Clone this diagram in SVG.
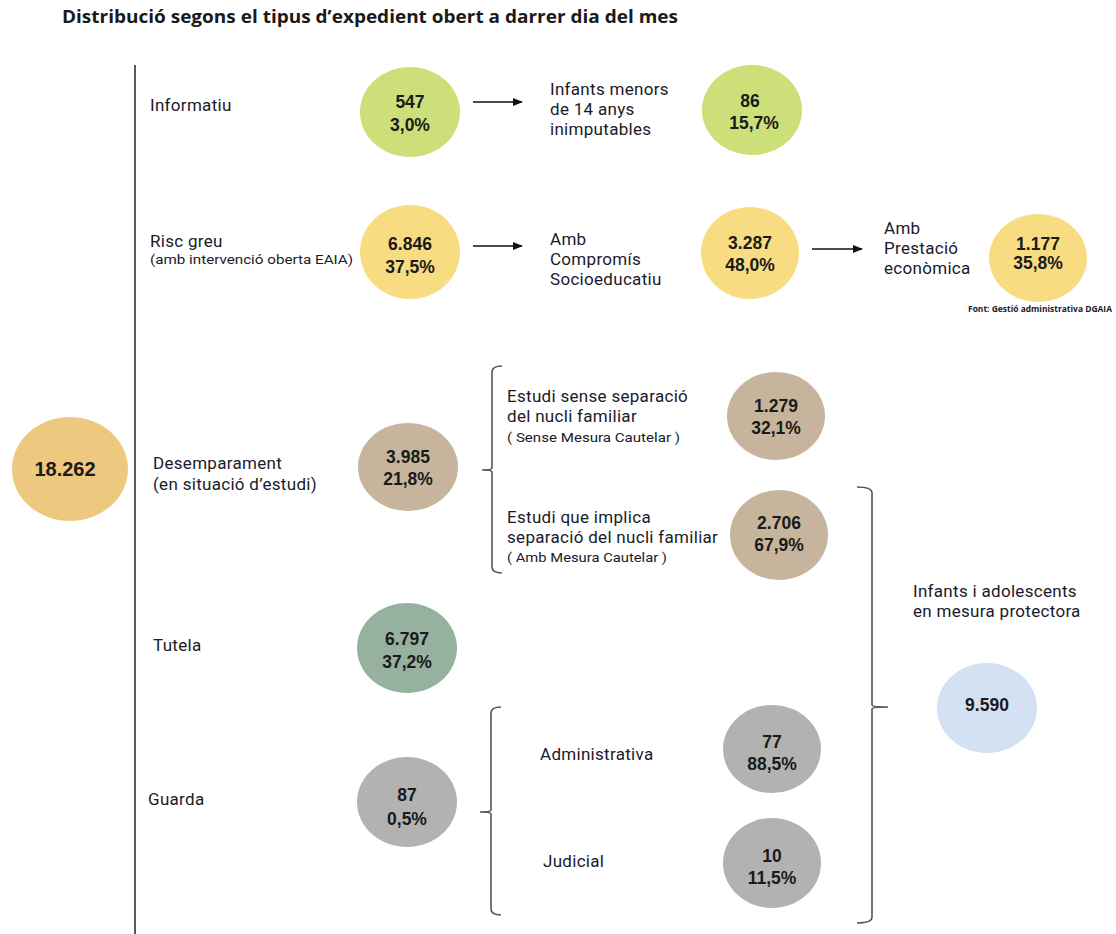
<svg xmlns="http://www.w3.org/2000/svg" width="1116" height="934" viewBox="0 0 1116 934">
<style>
.title{font-family:"Open Sans","Noto Sans",sans-serif;font-weight:bold;font-size:17px;fill:#1a1a1a}
.lbl{font-family:Roboto,"Open Sans",sans-serif;font-size:17px;letter-spacing:0.3px;fill:#1a1a2a}
.sm{font-family:Roboto,"Open Sans",sans-serif;font-size:13px;fill:#1a1a2a}
.tiny{font-family:"Open Sans","Noto Sans",sans-serif;font-size:8.3px;font-weight:bold;fill:#1a1a2a}
.num{font-family:"Liberation Sans",Arial,sans-serif;font-weight:bold;font-size:17.5px;fill:#1a1a1a;text-anchor:middle}
.big{font-size:20px}
.br{fill:none;stroke:#555;stroke-width:1.6}
.arr{stroke:#111;stroke-width:1.5;fill:none}
.green{fill:#CCDF78}
.yellow{fill:#F8DC82}
.orange{fill:#EDC97F}
.tan{fill:#C6B59C}
.sage{fill:#96B19F}
.gray{fill:#B2B2B2}
.blue{fill:#D4E1F2}
</style>
<defs>
<marker id="ah" markerWidth="10" markerHeight="8" refX="9" refY="4" orient="auto" markerUnits="userSpaceOnUse">
<path d="M0,0 L10,4 L0,8 Z" fill="#111"/>
</marker>
</defs>
<rect width="1116" height="934" fill="#fff"/>
<text class="title" x="62" y="23" textLength="616" lengthAdjust="spacingAndGlyphs">Distribució segons el tipus d’expedient obert a darrer dia del mes</text>

<g id="connectors">
<line x1="135" y1="65" x2="135" y2="934" stroke="#5a5a5a" stroke-width="2"/>
<line class="arr" x1="473" y1="102" x2="522" y2="102" marker-end="url(#ah)"/>
<line class="arr" x1="473" y1="246" x2="522" y2="246" marker-end="url(#ah)"/>
<line class="arr" x1="812" y1="249" x2="862" y2="249" marker-end="url(#ah)"/>
<path class="br" d="M502,366 Q492,366 492,372 L492,468 Q492,470 482,470 Q492,470 492,472 L492,567 Q492,573 502,573"/>
<path class="br" d="M501,707 Q491,707 491,713 L491,810 Q491,812 480,812 Q491,812 491,814 L491,909 Q491,915 501,915"/>
<path class="br" d="M857,487 Q872,487 872,493 L872,705 Q872,707 888,707 Q872,707 872,709 L872,917 Q872,923 857,923"/>
</g>

<g id="total">
<ellipse class="orange" cx="70" cy="469" rx="58" ry="52"/>
<text class="num big" x="65" y="476">18.262</text>
</g>

<g id="informatiu">
<text class="lbl" x="150" y="111">Informatiu</text>
<ellipse class="green" cx="410" cy="112" rx="50" ry="45"/>
<text class="num" x="410" y="108">547</text>
<text class="num" x="410" y="131">3,0%</text>
</g>
<g id="inimputables">
<text class="lbl" x="550" y="95">Infants menors</text>
<text class="lbl" x="550" y="115">de 14 anys</text>
<text class="lbl" x="550" y="135">inimputables</text>
<ellipse class="green" cx="752" cy="110" rx="50" ry="45"/>
<text class="num" x="750" y="107">86</text>
<text class="num" x="754" y="129">15,7%</text>
</g>

<g id="risc">
<text class="lbl" x="150" y="247">Risc greu</text>
<text class="sm" x="150" y="264" textLength="203" lengthAdjust="spacingAndGlyphs">(amb intervenció oberta EAIA)</text>
<ellipse class="yellow" cx="410" cy="252" rx="50" ry="47"/>
<text class="num" x="410" y="250">6.846</text>
<text class="num" x="410" y="273">37,5%</text>
</g>
<g id="compromis">
<text class="lbl" x="550" y="245">Amb</text>
<text class="lbl" x="550" y="265">Compromís</text>
<text class="lbl" x="550" y="285">Socioeducatiu</text>
<ellipse class="yellow" cx="750" cy="253" rx="49" ry="46"/>
<text class="num" x="750" y="249">3.287</text>
<text class="num" x="750" y="271">48,0%</text>
</g>
<g id="prestacio">
<text class="lbl" x="884" y="234">Amb</text>
<text class="lbl" x="884" y="254">Prestació</text>
<text class="lbl" x="884" y="274">econòmica</text>
<ellipse class="yellow" cx="1038" cy="258" rx="49" ry="44"/>
<text class="num" x="1038" y="250">1.177</text>
<text class="num" x="1038" y="269">35,8%</text>
<text class="tiny" x="968" y="312" textLength="144" lengthAdjust="spacingAndGlyphs">Font: Gestió administrativa DGAIA</text>
</g>

<g id="desemparament">
<text class="lbl" x="153" y="469">Desemparament</text>
<text class="lbl" x="153" y="490">(en situació d’estudi)</text>
<ellipse class="tan" cx="408" cy="467" rx="50" ry="44"/>
<text class="num" x="408" y="463">3.985</text>
<text class="num" x="408" y="485">21,8%</text>
</g>
<g id="sense-separacio">
<text class="lbl" x="507" y="402">Estudi sense separació</text>
<text class="lbl" x="507" y="422">del nucli familiar</text>
<text class="sm" x="507" y="442" textLength="173" lengthAdjust="spacingAndGlyphs">( Sense Mesura Cautelar )</text>
<ellipse class="tan" cx="776" cy="416" rx="49" ry="44"/>
<text class="num" x="776" y="412">1.279</text>
<text class="num" x="776" y="434">32,1%</text>
</g>
<g id="amb-separacio">
<text class="lbl" x="507" y="523">Estudi que implica</text>
<text class="lbl" x="507" y="543">separació del nucli familiar</text>
<text class="sm" x="507" y="562" textLength="160" lengthAdjust="spacingAndGlyphs">( Amb Mesura Cautelar )</text>
<ellipse class="tan" cx="779" cy="535" rx="49" ry="45"/>
<text class="num" x="779" y="529">2.706</text>
<text class="num" x="779" y="551">67,9%</text>
</g>

<g id="tutela">
<text class="lbl" x="153" y="651">Tutela</text>
<ellipse class="sage" cx="407" cy="648" rx="50" ry="45"/>
<text class="num" x="407" y="645">6.797</text>
<text class="num" x="407" y="668">37,2%</text>
</g>

<g id="guarda">
<text class="lbl" x="148" y="805">Guarda</text>
<ellipse class="gray" cx="407" cy="802" rx="50" ry="45"/>
<text class="num" x="407" y="801">87</text>
<text class="num" x="407" y="825">0,5%</text>
</g>
<g id="administrativa">
<text class="lbl" x="540" y="760">Administrativa</text>
<ellipse class="gray" cx="772" cy="749" rx="49" ry="44"/>
<text class="num" x="772" y="748">77</text>
<text class="num" x="772" y="770">88,5%</text>
</g>
<g id="judicial">
<text class="lbl" x="543" y="867">Judicial</text>
<ellipse class="gray" cx="772" cy="863" rx="49" ry="45"/>
<text class="num" x="772" y="862">10</text>
<text class="num" x="772" y="884">11,5%</text>
</g>

<g id="mesura-protectora">
<text class="lbl" x="913" y="597">Infants i adolescents</text>
<text class="lbl" x="913" y="617">en mesura protectora</text>
<ellipse class="blue" cx="987" cy="708" rx="50" ry="45"/>
<text class="num" x="987" y="711">9.590</text>
</g>
</svg>
